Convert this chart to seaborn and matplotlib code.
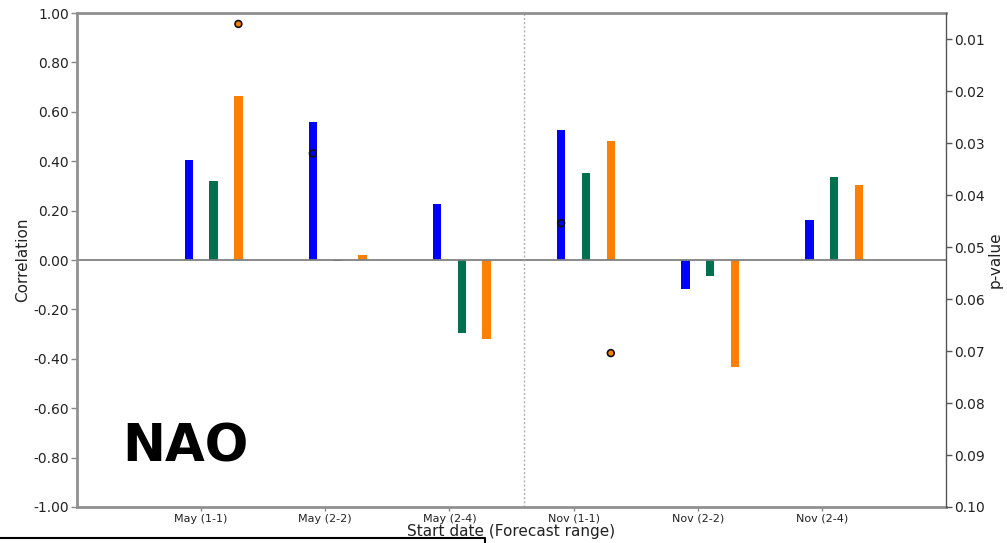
import numpy as np
import pandas as pd
import matplotlib
matplotlib.use("Agg")
import matplotlib.pyplot as plt
from matplotlib.lines import Line2D
import seaborn as sns

# Start dates with forecast range
categories = ["May (1-1)", "May (2-2)", "May (2-4)", "Nov (1-1)", "Nov (2-2)", "Nov (2-4)"]
series = ["A", "B", "C"]

# Correlation per series and start date
corr_a = [0.405, 0.557, 0.227, 0.526, -0.117, 0.160]
corr_b = [0.320, -0.005, -0.294, 0.351, -0.065, 0.338]
corr_c = [0.663, 0.022, -0.319, 0.483, -0.435, 0.303]

# p-values (only where shown)
pval_a = [np.nan, 0.032, np.nan, 0.0454, np.nan, np.nan]
pval_b = [np.nan, np.nan, np.nan, np.nan, np.nan, np.nan]
pval_c = [0.0071, np.nan, np.nan, 0.0704, np.nan, np.nan]

y_ticks = [-1.0, -0.8, -0.6, -0.4, -0.2, 0.0, 0.2, 0.4, 0.6, 0.8, 1.0]
p_ticks = [0.01, 0.02, 0.03, 0.04, 0.05, 0.06, 0.07, 0.08, 0.09, 0.10]

colors = {"A": "#0000ff", "B": "#00704f", "C": "#ff8000"}
offsets = {"A": -0.1, "B": 0.1, "C": 0.3}

sns.set_theme(style="white")
plt.rcParams["font.family"] = ["DejaVu Sans"]

rows = []
for name, cv, pv in zip(series, [corr_a, corr_b, corr_c], [pval_a, pval_b, pval_c]):
    for i, cat in enumerate(categories):
        rows.append({"series": name, "cat": cat, "pos": round(i + 1 + offsets[name], 3),
                     "corr": cv[i], "pval": pv[i]})
df = pd.DataFrame(rows)

fig = plt.figure(figsize=(10.07, 5.43), dpi=100)
ax = fig.add_axes([0.0765, 0.0663, 0.8629, 0.9097])

sns.barplot(data=df, x="pos", y="corr", hue="series", palette=colors,
            native_scale=True, dodge=False, width=0.34, saturation=1, legend=False,
            edgecolor="none", ax=ax)

ax.axhline(0, color="#808080", lw=1.3, zorder=1)
ax.axvline(3.6, color="#b0b0b0", lw=1.0, ls=(0, (1.5, 1.5)), zorder=1)

ax.set_xlim(0, 7)
ax.set_ylim(-1.0, 1.0)
ax.set_xticks(range(1, 7))
ax.set_xticklabels(categories, fontsize=8, color="#222222")
ax.set_yticks(y_ticks)
ax.set_yticklabels([f"{v:.2f}" for v in y_ticks], fontsize=10, color="#222222")
ax.tick_params(axis="x", length=3, width=1, color="#888888", pad=2, direction="out", bottom=True)
ax.tick_params(axis="y", length=4, width=1, color="#888888", pad=2, direction="out", left=True)
ax.set_xlabel("Start date (Forecast range)", fontsize=11, color="#222222", labelpad=0)
ax.set_ylabel("Correlation", fontsize=11, color="#222222", labelpad=2)

for side in ["top", "left", "bottom"]:
    ax.spines[side].set_color("#909090")
    ax.spines[side].set_linewidth(2)
ax.spines["right"].set_visible(False)

ax2 = ax.twinx()
sns.scatterplot(data=df.dropna(subset=["pval"]), x="pos", y="pval", hue="series",
                palette=colors, s=24, edgecolor="#111111", linewidth=1.2,
                legend=False, ax=ax2, zorder=5)
ax2.set_ylim(0.10, 0.005)
ax2.set_yticks(p_ticks)
ax2.set_yticklabels([f"{v:.2f}" for v in p_ticks], fontsize=10, color="#222222")
ax2.tick_params(axis="y", length=4, width=1, color="#555555", pad=2, direction="out", right=True)
ax2.set_ylabel("p-value", fontsize=11, color="#222222", labelpad=2, rotation=90)
ax2.set_xlim(0, 7)
for side in ["top", "left", "bottom"]:
    ax2.spines[side].set_visible(False)
ax2.spines["right"].set_color("#555555")
ax2.spines["right"].set_linewidth(1)

ax.text(0.052, 0.07, "NAO", transform=ax.transAxes, fontsize=37, fontweight="bold",
        color="black", ha="left", va="bottom")

# frame edge along the lower left
fig.add_artist(Line2D([0, 485 / 1007, 485 / 1007], [5 / 543, 5 / 543, 0],
                      transform=fig.transFigure, color="black", lw=1.5))

fig.savefig("out.png", dpi=100)
